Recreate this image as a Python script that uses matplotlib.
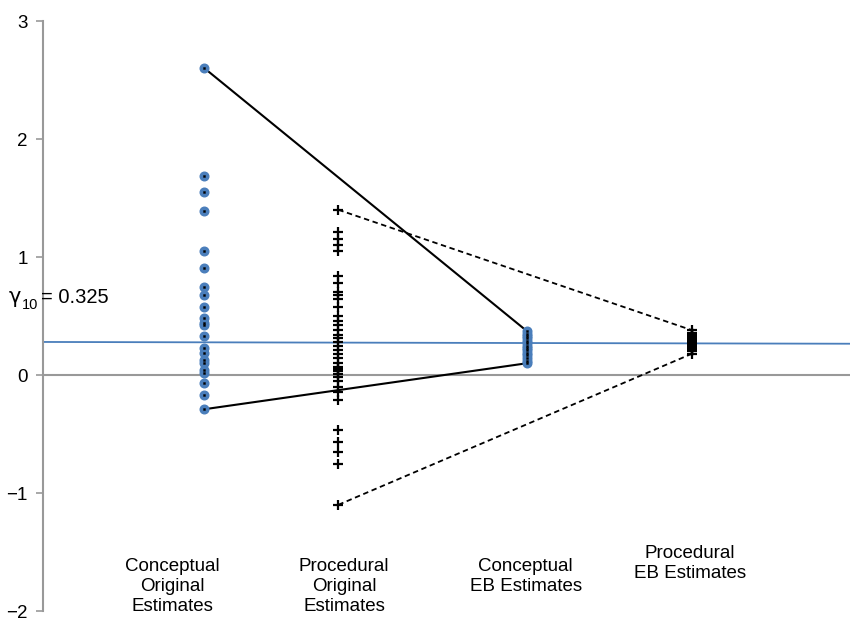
import numpy as np
import matplotlib.pyplot as plt

plt.rcParams['font.family'] = ['Liberation Sans', 'DejaVu Sans']

# ---------------------------------------------------------------------
# data
# ---------------------------------------------------------------------
group_x = [1.0, 1.83, 3.0, 4.02]          # column positions
label_x = [0.80, 1.865, 2.99, 4.01]
labels = ["Conceptual\nOriginal\nEstimates",
          "Procedural\nOriginal\nEstimates",
          "Conceptual\nEB Estimates",
          "Procedural\nEB Estimates"]
label_y = [-1.55, -1.55, -1.55, -1.44]

conc_orig = [2.60, 1.69, 1.55, 1.39, 1.05, 0.91, 0.75, 0.68, 0.58, 0.48,
             0.44, 0.42, 0.33, 0.23, 0.19, 0.13, 0.10, 0.04, 0.02,
             -0.07, -0.17, -0.29]
proc_orig = [1.40, 1.21, 1.15, 1.10, 1.05, 0.84, 0.78, 0.70, 0.68, 0.64,
             0.58, 0.50, 0.46, 0.42, 0.38, 0.34, 0.31, 0.28, 0.25, 0.21,
             0.18, 0.14, 0.10, 0.07, 0.05, 0.03, 0.01, -0.02, -0.05,
             -0.10, -0.14, -0.21, -0.47, -0.57, -0.65, -0.75, -1.10]
conc_eb = [0.37, 0.35, 0.33, 0.31, 0.29, 0.27, 0.25, 0.23, 0.21,
           0.19, 0.17, 0.14, 0.12, 0.10]
proc_eb = [0.38, 0.36, 0.35, 0.34, 0.33, 0.32, 0.31, 0.30, 0.29, 0.28,
           0.27, 0.26, 0.25, 0.24, 0.23, 0.22, 0.21, 0.20, 0.18]

gamma_line = [0.28, 0.265]   # fitted line at left / right edge
gamma_parts = ["γ", "10", "= 0.325"]

BLUE = "#4a7ebb"

# ---------------------------------------------------------------------
fig = plt.figure(figsize=(8.5, 6.21), dpi=100)
ax = fig.add_axes([43 / 850, 10 / 621, 807 / 850, 590 / 621])
ax.set_xlim(0, 5)
ax.set_ylim(-2, 3)

# reference lines
ax.axhline(0, color="#999999", lw=1.5, zorder=1)
ax.plot([0, 5], gamma_line, color=BLUE, lw=1.3, zorder=2)

# connecting lines (extremes -> EB extremes)
ax.plot([group_x[0], group_x[2]], [max(conc_orig), max(conc_eb)],
        color="black", lw=1.5, zorder=3)
ax.plot([group_x[0], group_x[2]], [min(conc_orig), min(conc_eb)],
        color="black", lw=1.5, zorder=3)
ax.plot([group_x[1], group_x[3]], [max(proc_orig), max(proc_eb)],
        color="black", lw=1.3, ls=(0, (3, 2)), zorder=3)
ax.plot([group_x[1], group_x[3]], [min(proc_orig), min(proc_eb)],
        color="black", lw=1.3, ls=(0, (3, 2)), zorder=3)

# conceptual: blue dots with small black centre
for xi, vals in [(group_x[0], conc_orig), (group_x[2], conc_eb)]:
    xs = np.full(len(vals), xi)
    ax.plot(xs, vals, "o", ms=6.2, color=BLUE, mec=BLUE, zorder=4)
    ax.plot(xs, vals, "s", ms=1.4, color="black", mec="black", mew=0.3,
            zorder=5)

# procedural: black plus markers
for xi, vals in [(group_x[1], proc_orig), (group_x[3], proc_eb)]:
    xs = np.full(len(vals), xi)
    ax.plot(xs, vals, "+", ms=7.5, mew=1.6, color="black", zorder=4)

# category labels
for lx, ly, lab in zip(label_x, label_y, labels):
    ax.text(lx, ly, lab, ha="center", va="top", fontsize=13.5,
            linespacing=1.22)

# gamma annotation (symbol, subscript, value) left of the axis
fig.text(9 / 850, 1 - 303 / 621, gamma_parts[0], fontsize=15,
         va="baseline", ha="left", family="DejaVu Sans")
fig.text(22 / 850, 1 - 309 / 621, gamma_parts[1], fontsize=10.5,
         va="baseline", ha="left")
fig.text(41 / 850, 1 - 303 / 621, gamma_parts[2], fontsize=14.5,
         va="baseline", ha="left")

# axes styling
for s in ["top", "right", "bottom"]:
    ax.spines[s].set_visible(False)
ax.spines["left"].set_color("#999999")
ax.spines["left"].set_linewidth(1.5)
ax.set_xticks([])
ax.set_yticks([-2, -1, 0, 1, 2, 3])
ax.set_yticklabels(["\u22122", "\u22121", "0", "1", "2", "3"])
ax.tick_params(axis="y", colors="#999999", labelcolor="black",
               labelsize=13.5, length=5, width=1.2, pad=6)

fig.savefig("out.png", dpi=100)
